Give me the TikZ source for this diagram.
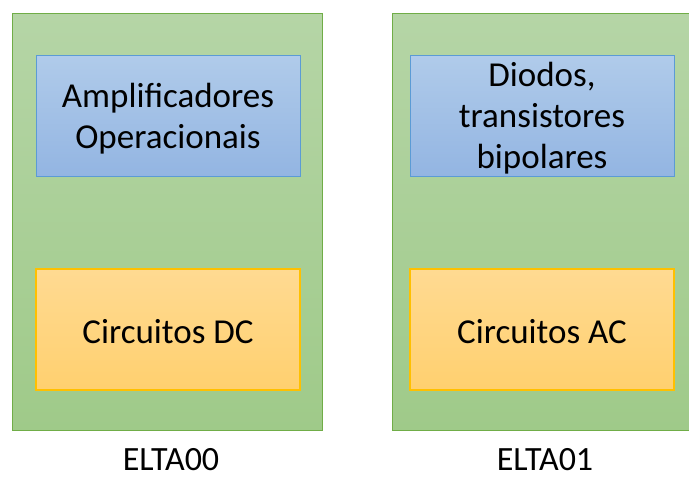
\documentclass[tikz,border=0pt]{standalone}
\usepackage{fontspec}
\setmainfont{Carlito}
\definecolor{gtop}{HTML}{B5D5A6}
\definecolor{gbot}{HTML}{9FCA89}
\definecolor{gline}{HTML}{70AD47}
\definecolor{btop}{HTML}{B0CBEA}
\definecolor{bbot}{HTML}{93B5E2}
\definecolor{bline}{HTML}{5B9BD5}
\definecolor{otop}{HTML}{FFDA92}
\definecolor{obot}{HTML}{FFD06F}
\definecolor{oline}{HTML}{FFC000}
\tikzset{
  panel/.style={draw=gline, line width=1pt, top color=gtop, bottom color=gbot, anchor=north west, inner sep=0pt},
  bluebox/.style={draw=bline, line width=0.8pt, top color=btop, bottom color=bbot, inner sep=0pt, minimum width=264pt, minimum height=121pt},
  orangebox/.style={draw=oline, line width=1.5pt, top color=otop, bottom color=obot, inner sep=0pt, minimum width=264pt, minimum height=121pt},
  boxtext/.style={align=center, font=\fontsize{35}{41}\selectfont, inner sep=0pt},
  caption/.style={font=\fontsize{34}{40}\selectfont, anchor=base, inner sep=0pt}
}
\begin{document}
\begin{tikzpicture}[x=1pt,y=-1pt]
\useasboundingbox (0,0) rectangle (689,477);
\begin{scope}
\clip (0,0) rectangle (689,477);
\node[panel, minimum width=310pt, minimum height=417pt] (p0) at (12,13) {};
\node[panel, minimum width=310pt, minimum height=417pt] (p1) at (392,13) {};
\end{scope}
\node[bluebox] (b0) at (168,115.5) {};
\node[bluebox] (b1) at (542,115.5) {};
\node[orangebox] (o0) at (168,329.5) {};
\node[orangebox] (o1) at (542,329.5) {};
\node[boxtext] (tb0) at ([yshift=-3pt]b0.center) {Amplificadores\\Operacionais};
\node[boxtext] (tb1) at ([yshift=-3pt]b1.center) {Diodos,\\transistores\\bipolares};
\node[boxtext] (to0) at ([yshift=-2pt]o0.center) {Circuitos DC};
\node[boxtext] (to1) at ([yshift=-2pt]o1.center) {Circuitos AC};
\node[caption] (c0) at (171,470) {ELTA00};
\node[caption] (c1) at (545,470) {ELTA01};
\end{tikzpicture}
\end{document}
